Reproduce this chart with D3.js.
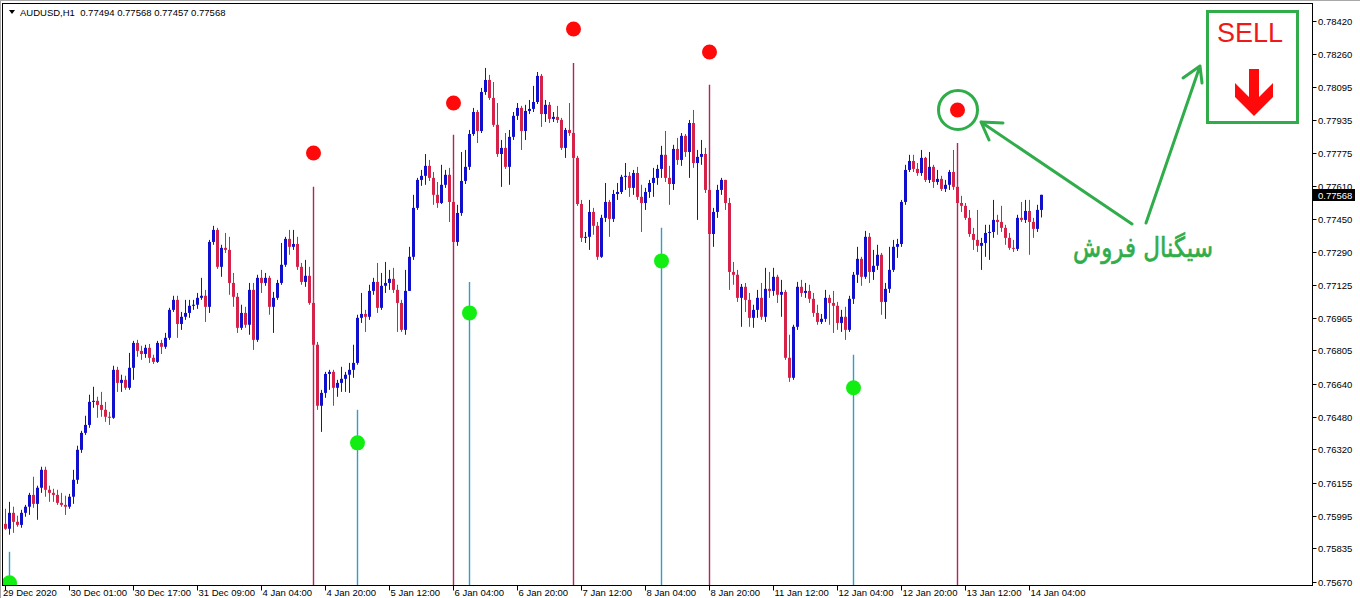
<!DOCTYPE html>
<html><head><meta charset="utf-8">
<script src="https://cdn.jsdelivr.net/npm/d3@7"></script>
<style>body{margin:0;background:#fff;overflow:hidden}svg{display:block}</style>
</head><body>
<svg id="c" width="1360" height="598"></svg>
<script>
const headerText = "AUDUSD,H1  0.77494 0.77568 0.77457 0.77568";
const timeLabels = ["29 Dec 2020","30 Dec 01:00","30 Dec 17:00","31 Dec 09:00","4 Jan 04:00","4 Jan 20:00","5 Jan 12:00","6 Jan 04:00","6 Jan 20:00","7 Jan 12:00","8 Jan 04:00","8 Jan 20:00","11 Jan 12:00","12 Jan 04:00","12 Jan 20:00","13 Jan 12:00","14 Jan 04:00"];
const priceTicks = ["0.78420","0.78260","0.78095","0.77935","0.77775","0.77610","0.77450","0.77290","0.77125","0.76965","0.76805","0.76640","0.76480","0.76320","0.76155","0.75995","0.75835","0.75670"];
const lastPrice = 0.77568;
const open0 = 0.75955;
const close = [
0.75931,0.76009,0.75965,0.75950,0.76009,0.76039,0.76097,0.76053,0.76132,0.76220,
0.76122,0.76107,0.76097,0.76058,0.76048,0.76039,0.76088,0.76171,0.76318,0.76401,
0.76440,0.76553,0.76558,0.76538,0.76514,0.76480,0.76475,0.76710,0.76646,0.76661,
0.76622,0.76720,0.76842,0.76803,0.76788,0.76818,0.76769,0.76749,0.76842,0.76823,
0.76867,0.77004,0.77053,0.76935,0.76970,0.76989,0.77024,0.77029,0.77063,0.77073,
0.77019,0.77337,0.77396,0.77215,0.77308,0.77298,0.77136,0.77068,0.76916,0.76989,
0.76931,0.77102,0.76857,0.77161,0.77136,0.77161,0.77019,0.77063,0.77136,0.77225,
0.77352,0.77313,0.77327,0.77215,0.77141,0.77171,0.77038,0.76833,0.76534,0.76597,
0.76690,0.76700,0.76622,0.76646,0.76666,0.76686,0.76710,0.76744,0.76965,0.76984,
0.76970,0.77097,0.77141,0.77014,0.77122,0.77136,0.77156,0.77102,0.77038,0.76906,
0.77097,0.77264,0.77504,0.77641,0.77661,0.77710,0.77651,0.77568,0.77528,0.77617,
0.77666,0.77533,0.77337,0.77479,0.77636,0.77705,0.77866,0.77974,0.77881,0.78072,
0.78131,0.78043,0.77911,0.77768,0.77798,0.77705,0.77852,0.77955,0.77994,0.77881,
0.77979,0.77989,0.78023,0.78151,0.77964,0.78009,0.77940,0.77950,0.77935,0.77798,
0.77886,0.77871,0.77749,0.77523,0.77357,0.77362,0.77484,0.77416,0.77264,0.77455,
0.77533,0.77450,0.77572,0.77582,0.77656,0.77661,0.77602,0.77675,0.77558,0.77528,
0.77582,0.77626,0.77651,0.77695,0.77764,0.77651,0.77621,0.77793,0.77739,0.77857,
0.77778,0.77920,0.77724,0.77754,0.77768,0.77592,0.77376,0.77484,0.77592,0.77641,
0.77528,0.77190,0.77176,0.77063,0.77117,0.77053,0.76965,0.77004,0.77063,0.76970,
0.77107,0.77097,0.77166,0.77078,0.77092,0.76769,0.76671,0.76921,0.77117,0.77087,
0.77097,0.77058,0.76989,0.76945,0.76960,0.77063,0.77038,0.77024,0.76940,0.76970,
0.76906,0.77058,0.77176,0.77254,0.77166,0.77362,0.77190,0.77220,0.77274,0.77043,
0.77107,0.77200,0.77313,0.77327,0.77533,0.77690,0.77734,0.77695,0.77675,0.77749,
0.77641,0.77705,0.77631,0.77646,0.77597,0.77617,0.77680,0.77607,0.77528,0.77514,
0.77455,0.77376,0.77347,0.77318,0.77332,0.77381,0.77386,0.77445,0.77435,0.77406,
0.77357,0.77308,0.77303,0.77455,0.77445,0.77489,0.77435,0.77401,0.77494,0.77568];
const high = [
0.76029,0.76063,0.76039,0.75995,0.76024,0.76048,0.76107,0.76186,0.76142,0.76235,
0.76235,0.76142,0.76127,0.76122,0.76107,0.76093,0.76102,0.76220,0.76338,0.76411,
0.76485,0.76588,0.76627,0.76578,0.76602,0.76553,0.76504,0.76730,0.76725,0.76686,
0.76681,0.76793,0.76852,0.76857,0.76828,0.76833,0.76837,0.76784,0.76852,0.76857,
0.76891,0.77014,0.77073,0.77073,0.76994,0.77053,0.77053,0.77053,0.77087,0.77161,
0.77102,0.77347,0.77416,0.77406,0.77323,0.77381,0.77362,0.77185,0.77087,0.77029,
0.77019,0.77136,0.77136,0.77176,0.77200,0.77185,0.77171,0.77092,0.77151,0.77332,
0.77362,0.77396,0.77396,0.77362,0.77234,0.77249,0.77215,0.77063,0.76847,0.76612,
0.76700,0.76710,0.76710,0.76661,0.76725,0.76700,0.76744,0.76833,0.76980,0.77087,
0.77004,0.77127,0.77161,0.77234,0.77185,0.77239,0.77200,0.77210,0.77127,0.77053,
0.77200,0.77313,0.77568,0.77651,0.77690,0.77768,0.77739,0.77680,0.77631,0.77715,
0.77690,0.77700,0.77543,0.77519,0.77778,0.77788,0.77886,0.77994,0.77984,0.78092,
0.78190,0.78156,0.78121,0.78018,0.77837,0.77871,0.77886,0.77974,0.78018,0.78004,
0.78009,0.78033,0.78102,0.78170,0.78160,0.78033,0.78023,0.77974,0.78004,0.77945,
0.77896,0.78018,0.77896,0.77759,0.77543,0.77386,0.77543,0.77504,0.77435,0.77470,
0.77626,0.77543,0.77592,0.77626,0.77666,0.77724,0.77680,0.77690,0.77705,0.77617,
0.77602,0.77641,0.77700,0.77715,0.77808,0.77881,0.77710,0.77813,0.77847,0.77871,
0.77866,0.77935,0.77984,0.77788,0.77837,0.77798,0.77617,0.77504,0.77617,0.77651,
0.77641,0.77553,0.77239,0.77200,0.77131,0.77136,0.77087,0.77029,0.77102,0.77136,
0.77210,0.77190,0.77210,0.77176,0.77151,0.77102,0.76882,0.76931,0.77141,0.77151,
0.77136,0.77127,0.77087,0.77029,0.76984,0.77102,0.77078,0.77097,0.77043,0.77004,
0.77019,0.77073,0.77190,0.77313,0.77264,0.77391,0.77381,0.77298,0.77323,0.77283,
0.77136,0.77313,0.77347,0.77352,0.77543,0.77715,0.77764,0.77764,0.77724,0.77788,
0.77754,0.77778,0.77715,0.77690,0.77661,0.77641,0.77690,0.77788,0.77626,0.77563,
0.77528,0.77494,0.77406,0.77494,0.77357,0.77421,0.77421,0.77543,0.77470,0.77514,
0.77421,0.77381,0.77347,0.77470,0.77533,0.77543,0.77543,0.77455,0.77519,0.77568];
const low = [
0.75926,0.75902,0.75911,0.75941,0.75936,0.75990,0.75999,0.76034,0.75975,0.76107,
0.76088,0.76063,0.76063,0.76048,0.76039,0.75999,0.76029,0.76053,0.76151,0.76303,
0.76391,0.76426,0.76524,0.76475,0.76480,0.76455,0.76440,0.76470,0.76602,0.76602,
0.76612,0.76612,0.76661,0.76774,0.76759,0.76769,0.76744,0.76739,0.76744,0.76788,
0.76813,0.76857,0.76994,0.76867,0.76906,0.76955,0.76965,0.77004,0.77009,0.77053,
0.76945,0.76989,0.77323,0.77205,0.77166,0.77283,0.77078,0.77019,0.76891,0.76906,
0.76916,0.76882,0.76808,0.76847,0.77087,0.77122,0.76980,0.76891,0.77053,0.77127,
0.77215,0.77274,0.77298,0.77200,0.77127,0.77117,0.77029,0.76823,0.76514,0.76406,
0.76573,0.76612,0.76534,0.76578,0.76602,0.76602,0.76597,0.76671,0.76735,0.76940,
0.76896,0.76955,0.77078,0.76989,0.77004,0.77087,0.77102,0.77087,0.76896,0.76896,
0.76882,0.77210,0.77249,0.77494,0.77612,0.77617,0.77636,0.77519,0.77504,0.77523,
0.77602,0.77435,0.77327,0.77318,0.77465,0.77621,0.77690,0.77857,0.77822,0.77871,
0.78058,0.78033,0.77901,0.77754,0.77607,0.77695,0.77617,0.77837,0.77935,0.77788,
0.77837,0.77964,0.77974,0.78013,0.77901,0.77925,0.77920,0.77925,0.77920,0.77788,
0.77749,0.77857,0.77739,0.77514,0.77337,0.77332,0.77298,0.77372,0.77249,0.77259,
0.77435,0.77362,0.77435,0.77543,0.77572,0.77592,0.77558,0.77568,0.77543,0.77386,
0.77494,0.77553,0.77558,0.77617,0.77651,0.77631,0.77519,0.77592,0.77715,0.77710,
0.77754,0.77651,0.77700,0.77445,0.77715,0.77577,0.77367,0.77313,0.77455,0.77568,
0.77494,0.77102,0.77127,0.77043,0.76921,0.76994,0.76921,0.76916,0.76965,0.76955,
0.76945,0.77063,0.77073,0.77038,0.76970,0.76759,0.76651,0.76661,0.76906,0.77068,
0.77063,0.77038,0.76970,0.76931,0.76935,0.76945,0.76931,0.76891,0.76906,0.76896,
0.76857,0.76896,0.77033,0.77136,0.77122,0.77156,0.77136,0.77151,0.77200,0.76980,
0.76960,0.77087,0.77190,0.77259,0.77313,0.77519,0.77680,0.77680,0.77661,0.77661,
0.77631,0.77626,0.77602,0.77617,0.77587,0.77582,0.77592,0.77592,0.77519,0.77484,
0.77445,0.77362,0.77298,0.77288,0.77200,0.77264,0.77249,0.77357,0.77372,0.77386,
0.77323,0.77298,0.77288,0.77293,0.77435,0.77430,0.77274,0.77357,0.77386,0.77457];
const sellBars = [77,112,142,176,238];
const sellLineTop = [0.77607,0.77862,0.78214,0.78107,0.77822];
const sellDot = [0.77773,0.78018,0.78381,0.78268,0.77984];
const buyBars = [1,88,116,164,212];
const buyLineTop = [0.75818,0.76514,0.77141,0.77406,0.76784];
const buyDot = [0.75666,0.76352,0.76989,0.77244,0.76622];
const annotationText = "سیگنال فروش";

const BULL = "#1010cc", BEAR = "#d42248", SELLC = "#b3245a", BUYC = "#2e9fc8", GREEN = "#30ad4a";
const FONT = "'Liberation Sans', Arial, sans-serif";
const L = 2.5, T = 3.5, R = 1312.5, B = 585.5;

const svg = d3.select("#c");
const x = d3.scaleLinear().domain([0, close.length - 1]).range([5.5, 5.5 + 4 * (close.length - 1)]);
const y = d3.scaleLinear().domain([0.75670, 0.78420]).range([582, 21]);

const open = [open0].concat(close.slice(0, -1));
const bars = close.map((c, i) => ({
  i, o: open[i], c,
  h: Math.max(high[i], open[i], c),
  l: Math.min(low[i], open[i], c)
}));

// outer frame
svg.append("line").attr("x1", 0.5).attr("x2", 0.5).attr("y1", 0).attr("y2", 598).attr("stroke", "#a8a8a8").attr("stroke-width", 1);
svg.append("line").attr("x1", 0).attr("x2", 1360).attr("y1", 0.5).attr("y2", 0.5).attr("stroke", "#a8a8a8").attr("stroke-width", 1);

svg.append("defs").append("clipPath").attr("id", "plot")
  .append("rect").attr("x", L + 0.5).attr("y", T + 0.5).attr("width", R - L - 1).attr("height", B - T - 1);

const plot = svg.append("g").attr("clip-path", "url(#plot)");

// signal lines
plot.selectAll("line.sell").data(sellBars).join("line").attr("class", "sell")
  .attr("x1", d => x(d)).attr("x2", d => x(d))
  .attr("y1", (d, k) => y(sellLineTop[k])).attr("y2", B)
  .attr("stroke", SELLC).attr("stroke-width", 1.4);
plot.selectAll("line.buy").data(buyBars).join("line").attr("class", "buy")
  .attr("x1", d => x(d)).attr("x2", d => x(d))
  .attr("y1", (d, k) => y(buyLineTop[k])).attr("y2", B)
  .attr("stroke", BUYC).attr("stroke-width", 1.4);

// candles
const cg = plot.append("g");
cg.selectAll("rect.wick").data(bars).join("rect").attr("class", "wick")
  .attr("x", d => x(d.i) - 0.5).attr("width", 1)
  .attr("y", d => y(d.h)).attr("height", d => Math.max(1, y(d.l) - y(d.h)))
  .attr("fill", d => d.c >= d.o ? BULL : BEAR);
cg.selectAll("rect.body").data(bars).join("rect").attr("class", "body")
  .attr("x", d => x(d.i) - 1.5).attr("width", 3)
  .attr("y", d => y(Math.max(d.o, d.c))).attr("height", d => Math.max(1, Math.abs(y(d.o) - y(d.c))))
  .attr("fill", d => d.c >= d.o ? BULL : BEAR);

// dots
plot.selectAll("circle.sd").data(sellBars).join("circle").attr("class", "sd")
  .attr("cx", d => x(d)).attr("cy", (d, k) => y(sellDot[k])).attr("r", 7.5).attr("fill", "#ff0a0a");
plot.selectAll("circle.bd").data(buyBars).join("circle").attr("class", "bd")
  .attr("cx", d => x(d)).attr("cy", (d, k) => y(buyDot[k])).attr("r", 7.5).attr("fill", "#12ee12");

// frame
svg.append("rect").attr("x", L).attr("y", T).attr("width", R - L).attr("height", B - T)
  .attr("fill", "none").attr("stroke", "#000").attr("stroke-width", 1);

// price axis
const ya = svg.append("g");
priceTicks.forEach(t => {
  const yy = Math.round(y(+t)) + 0.5;
  ya.append("line").attr("x1", R).attr("x2", R + 4).attr("y1", yy).attr("y2", yy).attr("stroke", "#000");
  ya.append("text").attr("x", 1318).attr("y", yy + 3.5).text(t)
    .attr("font-family", FONT).attr("font-size", "9.5px").attr("fill", "#000");
});
const ly = Math.round(y(lastPrice));
ya.append("rect").attr("x", 1313).attr("y", ly - 6).attr("width", 42).attr("height", 12).attr("fill", "#000");
ya.append("text").attr("x", 1318).attr("y", ly + 3.5).text(lastPrice.toFixed(5))
  .attr("font-family", FONT).attr("font-size", "9.5px").attr("fill", "#fff");

// time axis
const xa = svg.append("g");
timeLabels.forEach((t, k) => {
  const xx = x(k * 16);
  xa.append("line").attr("x1", xx).attr("x2", xx).attr("y1", B).attr("y2", B + 5).attr("stroke", "#000");
  xa.append("text").attr("x", k === 0 ? 3 : xx + 1).attr("y", 596).text(t)
    .attr("font-family", FONT).attr("font-size", "9.5px").attr("fill", "#000");
});

// header
svg.append("path").attr("d", "M9,10 L15,10 L12,14 Z").attr("fill", "#000");
svg.append("text").attr("x", 20).attr("y", 15.5).text(headerText)
  .attr("font-family", FONT).attr("font-size", "9.5px").attr("fill", "#000").style("white-space", "pre");

// annotations
const ann = svg.append("g");
ann.append("circle").attr("cx", x(sellBars[4]) + 0.5).attr("cy", y(sellDot[4])).attr("r", 19.5)
  .attr("fill", "none").attr("stroke", GREEN).attr("stroke-width", 3);
ann.append("path").attr("d", "M1132,224 L981,122 M1003,123 L981,122 L989,140")
  .attr("fill", "none").attr("stroke", GREEN).attr("stroke-width", 3).attr("stroke-linecap", "round").attr("stroke-linejoin", "round");
ann.append("path").attr("d", "M1146,223 L1200,66 M1183,78 L1200,66 L1202,83")
  .attr("fill", "none").attr("stroke", GREEN).attr("stroke-width", 3).attr("stroke-linecap", "round").attr("stroke-linejoin", "round");
const at = ann.append("text").attr("x", 0).attr("y", 0).attr("text-anchor", "start")
  .attr("font-family", "'DejaVu Sans', 'Noto Sans', sans-serif").attr("font-size", "24px").attr("fill", GREEN)
  .attr("stroke", GREEN).attr("stroke-width", 0.6)
  .attr("direction", "rtl").text(annotationText);
// fit text into its box (x 1073..1213, baseline 257), slightly taller glyphs
const w = at.node().getComputedTextLength();
const sx = w > 0 ? 140 / w : 1;
at.attr("transform", `translate(1213,257) scale(${sx.toFixed(3)},${(sx * 1.2).toFixed(3)})`);

// SELL box
ann.append("rect").attr("x", 1207.5).attr("y", 11.5).attr("width", 90).attr("height", 111)
  .attr("fill", "none").attr("stroke", GREEN).attr("stroke-width", 3);
ann.append("text").attr("x", 1217).attr("y", 42).text("SELL")
  .attr("font-family", FONT).attr("font-size", "27px").attr("fill", "#ee1a1a");
ann.append("path").attr("d", "M1249,69 L1259,69 L1259,97 L1273,83 L1273,97 L1254,116 L1235,97 L1235,83 L1249,97 Z")
  .attr("fill", "#ff0a0a");
</script>
</body></html>
